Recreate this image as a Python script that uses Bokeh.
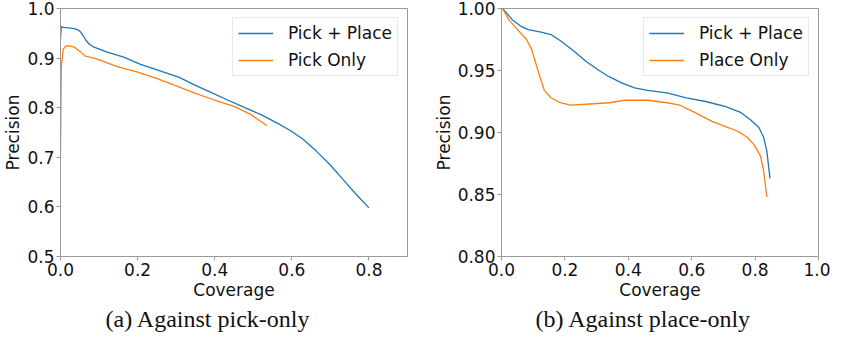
from bokeh.plotting import figure
from bokeh.layouts import row
from bokeh.models import (Range1d, FixedTicker, NumeralTickFormatter, Legend,
                          LegendItem, Title)
from bokeh.embed import file_html
from bokeh.resources import INLINE

# ---------------- data ----------------
# (a) Against pick-only
a_pp_x = [0.0, 0.002, 0.007, 0.02, 0.036, 0.045, 0.053, 0.060, 0.066, 0.075, 0.087,
          0.121, 0.164, 0.206, 0.266, 0.308, 0.350, 0.393, 0.435, 0.478, 0.520,
          0.562, 0.596, 0.630, 0.664, 0.698, 0.732, 0.766, 0.800]
a_pp_y = [0.938, 0.964, 0.962, 0.961, 0.9595, 0.957, 0.952, 0.944, 0.936, 0.928, 0.922,
          0.912, 0.902, 0.888, 0.872, 0.861, 0.845, 0.830, 0.815, 0.800, 0.786,
          0.769, 0.754, 0.736, 0.712, 0.686, 0.656, 0.626, 0.598]
a_po_x = [0.0, 0.002, 0.007, 0.015, 0.025, 0.036, 0.053, 0.064, 0.087, 0.113, 0.147,
          0.198, 0.249, 0.300, 0.350, 0.401, 0.452, 0.494, 0.535]
a_po_y = [0.705, 0.88, 0.918, 0.925, 0.924, 0.922, 0.912, 0.904, 0.900, 0.893, 0.883,
          0.872, 0.859, 0.844, 0.829, 0.815, 0.802, 0.786, 0.764]

# (b) Against place-only
b_pp_x = [0.003, 0.034, 0.059, 0.084, 0.125, 0.156, 0.186, 0.227, 0.268, 0.308, 0.339,
          0.379, 0.420, 0.461, 0.522, 0.583, 0.644, 0.705, 0.756, 0.786, 0.812,
          0.827, 0.837, 0.847]
b_pp_y = [1.000, 0.991, 0.986, 0.983, 0.981, 0.979, 0.974, 0.966, 0.957, 0.950, 0.945,
          0.940, 0.936, 0.934, 0.932, 0.928, 0.925, 0.921, 0.916, 0.910, 0.904,
          0.896, 0.885, 0.863]
b_po_x = [0.003, 0.023, 0.054, 0.079, 0.095, 0.115, 0.135, 0.156, 0.186, 0.217, 0.278,
          0.339, 0.390, 0.461, 0.522, 0.563, 0.603, 0.664, 0.705, 0.746, 0.776,
          0.797, 0.817, 0.827, 0.837]
b_po_y = [1.000, 0.991, 0.982, 0.975, 0.967, 0.950, 0.934, 0.928, 0.924, 0.922, 0.923,
          0.924, 0.926, 0.926, 0.924, 0.922, 0.917, 0.909, 0.905, 0.901, 0.896,
          0.890, 0.881, 0.869, 0.848]

a_xticks = [0.0, 0.2, 0.4, 0.6, 0.8]
a_yticks = [0.5, 0.6, 0.7, 0.8, 0.9, 1.0]
b_xticks = [0.0, 0.2, 0.4, 0.6, 0.8, 1.0]
b_yticks = [0.80, 0.85, 0.90, 0.95, 1.00]

BLUE = "#1f77b4"
ORANGE = "#ff7f0e"
FONT = "DejaVu Sans"
TICK_FS = "17px"
SPINE = "#9a9a9a"


def make_panel(width, left, right, xr, yr, xt, yt, yfmt, series, caption, cap_off):
    p = figure(width=width, height=333, output_backend="svg", toolbar_location=None,
               x_range=Range1d(*xr), y_range=Range1d(*yr),
               min_border_left=left, min_border_right=right,
               min_border_top=8, min_border_bottom=0)
    p.grid.visible = False
    p.outline_line_color = SPINE
    p.outline_line_width = 1
    p.background_fill_color = "white"
    p.border_fill_color = "white"
    for ax in (p.xaxis[0], p.yaxis[0]):
        ax.axis_line_color = SPINE
        ax.major_tick_line_color = SPINE
        ax.minor_tick_line_color = None
        ax.major_tick_out = 4
        ax.major_tick_in = 0
        ax.major_label_text_font = FONT
        ax.major_label_text_font_size = TICK_FS
        ax.major_label_text_color = "#111111"
        ax.major_label_standoff = 2
        ax.axis_label_text_font = FONT
        ax.axis_label_text_font_size = "17px"
        ax.axis_label_text_font_style = "normal"
        ax.axis_label_text_color = "#111111"
        ax.axis_label_standoff = 1
    p.xaxis[0].ticker = FixedTicker(ticks=xt)
    p.yaxis[0].ticker = FixedTicker(ticks=yt)
    p.xaxis[0].formatter = NumeralTickFormatter(format="0.0")
    p.yaxis[0].formatter = NumeralTickFormatter(format=yfmt)
    p.xaxis[0].axis_label = "Coverage"
    p.yaxis[0].axis_label = "Precision"

    items = []
    for (xs, ys, color, name) in series:
        r = p.line(xs, ys, line_color=color, line_width=1.3)
        items.append(LegendItem(label=name, renderers=[r]))
    leg = Legend(items=items, location="top_right", margin=9, padding=5,
                 spacing=7, glyph_width=35, glyph_height=20, label_height=20,
                 label_standoff=15, label_text_font=FONT,
                 label_text_font_size="17px", label_text_color="#111111",
                 border_line_color="#d0d0d0", border_line_width=1,
                 background_fill_color="white", background_fill_alpha=0.9)
    p.add_layout(leg)

    cap = Title(text=caption, align="left", offset=cap_off,
                text_font="Liberation Serif", text_font_size="24px",
                text_font_style="normal", text_color="#111111", standoff=3)
    p.add_layout(cap, "below")
    return p


p1 = make_panel(430, 54, 23, (0.0, 0.9), (0.5, 1.0), a_xticks, a_yticks, "0.0",
                [(a_pp_x, a_pp_y, BLUE, "Pick + Place"),
                 (a_po_x, a_po_y, ORANGE, "Pick Only")],
                "(a) Against pick-only", 45)
p2 = make_panel(400, 64, 12, (0.0, 1.0), (0.8, 1.0), b_xticks, b_yticks, "0.00",
                [(b_pp_x, b_pp_y, BLUE, "Pick + Place"),
                 (b_po_x, b_po_y, ORANGE, "Place Only")],
                "(b) Against place-only", 34)

layout = row(p1, p2)
open("out.html", "w").write(file_html(layout, INLINE))
